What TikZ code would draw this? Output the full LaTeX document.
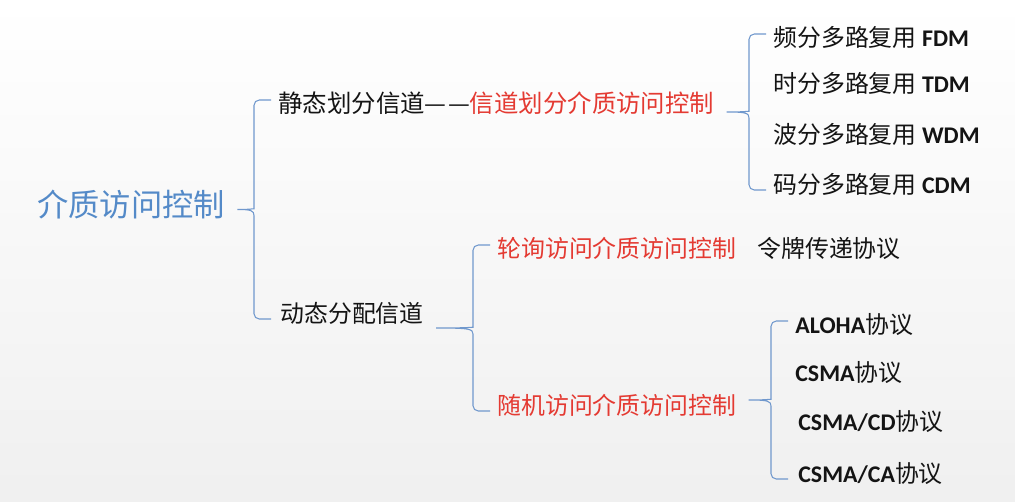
\documentclass[tikz,border=0pt]{standalone}
\usepackage{fontspec}
\setmainfont{Noto Sans CJK SC}
\newfontfamily\latb{Carlito}
\usetikzlibrary{calc}
\definecolor{myblue}{RGB}{84,138,200}
\definecolor{mybrace}{RGB}{112,152,205}
\definecolor{myred}{RGB}{228,58,50}
\definecolor{mytext}{RGB}{20,20,20}
\tikzset{
  title/.style={anchor=west, inner sep=0pt,
    font=\fontsize{17.8pt}{20pt}\selectfont, text=myblue},
  item/.style={anchor=west, inner sep=0pt,
    font=\fontsize{13.6pt}{16pt}\selectfont, text=mytext},
  reditem/.style={item, text=myred},
  brace/.style={draw=mybrace, line width=0.6pt}
}
\newcommand{\en}[1]{{\latb\bfseries #1}}
% bracket from a parent to its first and last child
\newcommand{\bracelink}[3]{%
  \coordinate (bt) at ($(#2.west)+(-7,-3)$);
  \coordinate (bb) at ($(bt |- #3.west)+(0,6)$);
  \coordinate (bm) at ($(bt)!0.5!(bb)$);
  \coordinate (bv) at ($(bm)+(-17,0)$);
  \coordinate (bu) at ($(bv)+(0,-6)$);
  \coordinate (bd) at ($(bv)+(0,6)$);
  \coordinate (bp) at ($(bm -| #1.east)+(12,0)$);
  \draw[brace] (bt) [rounded corners=3pt] -| (bu) [sharp corners]
    .. controls ($(bv)+(0,-1)$) and ($(bv)+(-3,0)$) .. (bp)
    .. controls ($(bv)+(-3,0)$) and ($(bv)+(0,1)$) .. (bd)
    [rounded corners=3pt] |- (bb);
}

\begin{document}
\begin{tikzpicture}[x=0.02cm, y=-0.02cm]
  \shade[top color=white, bottom color=black!6] (0,0) rectangle (1015,501);
  \useasboundingbox (0,0) rectangle (1015,501);

  % root
  \node[title] (root) at (37,205) {介质访问控制};

  % first level
  \node[item, font=\fontsize{13.9pt}{16pt}\selectfont] (static) at (278,103)
    {静态划分信道—\kern0.8pt—\textcolor{myred}{信道划分介质访问控制}};
  \node[item] (dynamic) at (280,313) {动态分配信道};

  % multiplexing
  \node[item] (fdm) at (773,37) {频分多路复用 \en{FDM}};
  \node[item] (tdm) at (773,83) {时分多路复用 \en{TDM}};
  \node[item] (wdm) at (773,134) {波分多路复用 \en{WDM}};
  \node[item] (cdm) at (773,184) {码分多路复用 \en{CDM}};

  % dynamic
  \node[reditem] (poll) at (497,248) {轮询访问介质访问控制};
  \node[item] (token) at (757,248) {令牌传递协议};
  \node[reditem] (rand) at (497,405) {随机访问介质访问控制};

  % random access protocols
  \node[item] (aloha) at (795,324) {\en{ALOHA}协议};
  \node[item] (csma) at (795,372) {\en{CSMA}协议};
  \node[item] (csmacd) at (798,421) {\en{CSMA/CD}协议};
  \node[item] (csmaca) at (798,473) {\en{CSMA/CA}协议};

  % brackets
  \bracelink{root}{static}{dynamic}
  \bracelink{static}{fdm}{cdm}
  \bracelink{dynamic}{poll}{rand}
  \bracelink{rand}{aloha}{csmaca}
\end{tikzpicture}
\end{document}
